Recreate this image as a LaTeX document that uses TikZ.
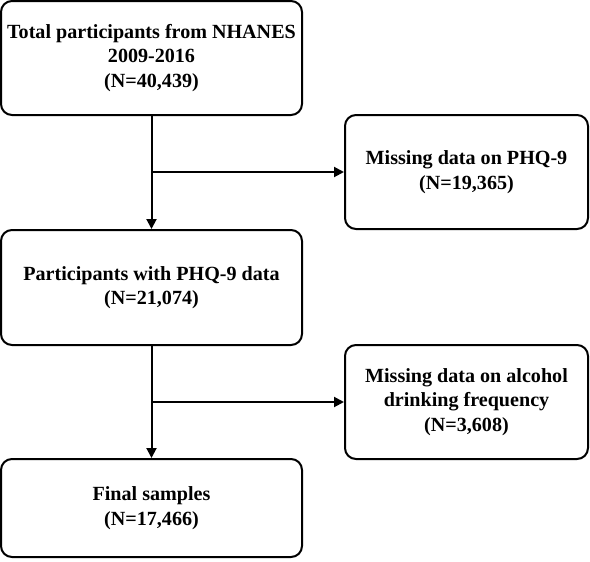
\documentclass[tikz,border=0pt]{standalone}
\usepackage{fontspec}
\setmainfont{Liberation Serif}
\usetikzlibrary{arrows.meta}

\begin{document}
\begin{tikzpicture}[x=1pt, y=1pt,
		stagebox/.style={draw=black, line width=2pt, rounded corners=11pt, align=center,
			inner sep=0pt, font=\fontsize{20.1}{24.5}\selectfont\bfseries},
		mainbox/.style={stagebox, minimum width=301pt},
		sidebox/.style={stagebox, minimum width=243pt, minimum height=114pt},
		flow/.style={line width=2pt, -{Triangle[length=10pt, width=10pt]}}]
	% Fix the page size
	\useasboundingbox (0,0) rectangle (590,-562);
	
	% Main column of stages
	\node[mainbox, minimum height=114pt] (total) at (151.5,-58) {Total participants from NHANES\\2009-2016\\(N=40,439)};
	\node[mainbox, minimum height=115pt] (phq) at (151.5,-287.5) {Participants with PHQ-9 data\\(N=21,074)};
	\node[mainbox, minimum height=98pt] (final) at (151.5,-508) {Final samples\\(N=17,466)};
	
	% Excluded participants
	\node[sidebox] (missphq) at (466.5,-172) {Missing data on PHQ-9\\(N=19,365)};
	\node[sidebox] (missalc) at (466.5,-402) {Missing data on alcohol\\drinking frequency\\(N=3,608)};
	
	% Connectors
	\draw[flow] (total) -- (phq);
	\draw[flow] (phq) -- (final);
	\draw[flow] (total.south |- missphq) -- (missphq);
	\draw[flow] (phq.south |- missalc) -- (missalc);
\end{tikzpicture}
\end{document}
